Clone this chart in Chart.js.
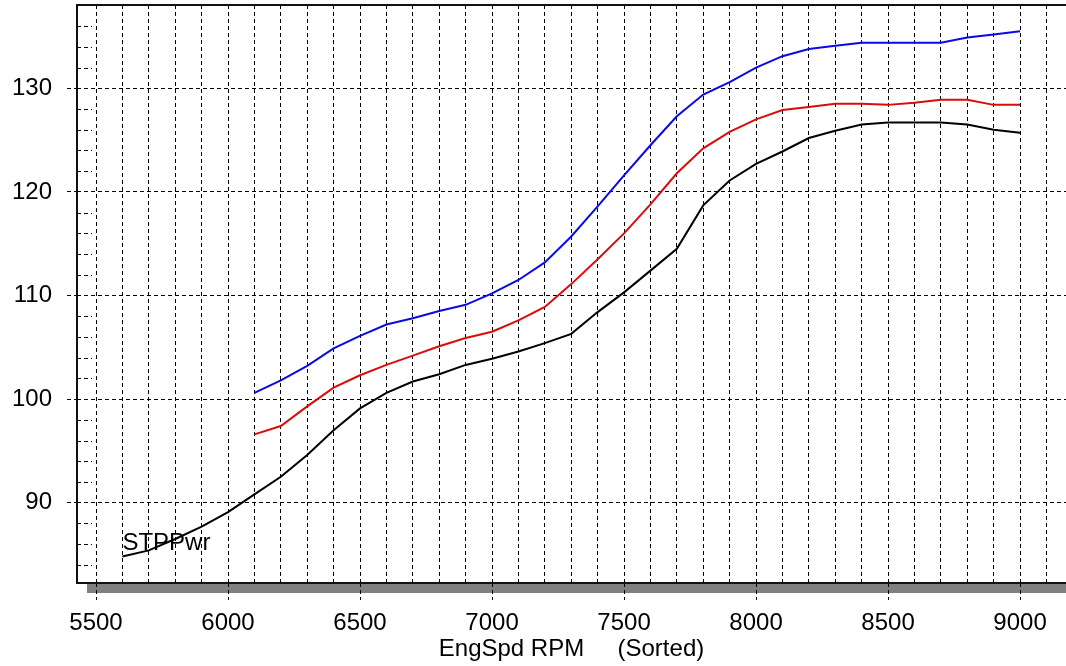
<!DOCTYPE html>
<html>
<head>
<meta charset="utf-8">
<script src="https://cdn.jsdelivr.net/npm/chart.js@4.4.1/dist/chart.umd.min.js"></script>
<style>
  html, body { margin: 0; padding: 0; background: #fff; overflow: hidden; }
  #wrap { width: 1066px; height: 666px; }
</style>
</head>
<body>
<div id="wrap"><canvas id="c" width="1066" height="666"></canvas></div>
<script>
// Engine speed (RPM) samples for each run
const rpmStp = [5600, 5700, 5800, 5900, 6000, 6100, 6200, 6300, 6400, 6500,
                6600, 6700, 6800, 6900, 7000, 7100, 7200, 7300, 7400, 7500,
                7600, 7700, 7800, 7900, 8000, 8100, 8200, 8300, 8400, 8500,
                8600, 8700, 8800, 8900, 9000];
const rpmRuns = [6100, 6200, 6300, 6400, 6500, 6600, 6700, 6800, 6900, 7000,
                 7100, 7200, 7300, 7400, 7500, 7600, 7700, 7800, 7900, 8000,
                 8100, 8200, 8300, 8400, 8500, 8600, 8700, 8800, 8900, 9000];

// STP corrected power (black trace)
const stpPwr = [84.8, 85.4, 86.5, 87.7, 89.1, 90.8, 92.5, 94.6, 97.0, 99.1,
                100.6, 101.7, 102.4, 103.3, 103.9, 104.6, 105.4, 106.3, 108.4, 110.3,
                112.4, 114.5, 118.7, 121.1, 122.7, 123.9, 125.2, 125.9, 126.5, 126.7,
                126.7, 126.7, 126.5, 126.0, 125.7];
// Red trace
const runRed = [96.6, 97.4, 99.3, 101.1, 102.3, 103.3, 104.2, 105.1, 105.9, 106.5,
                107.6, 108.9, 111.1, 113.5, 116.0, 118.8, 121.8, 124.2, 125.8, 127.0,
                127.9, 128.2, 128.5, 128.5, 128.4, 128.6, 128.9, 128.9, 128.4, 128.4];
// Blue trace
const runBlue = [100.6, 101.8, 103.2, 104.9, 106.1, 107.2, 107.8, 108.5, 109.1, 110.2,
                 111.5, 113.2, 115.7, 118.6, 121.6, 124.5, 127.3, 129.4, 130.6, 132.0,
                 133.1, 133.8, 134.1, 134.4, 134.4, 134.4, 134.4, 134.9, 135.2, 135.5];

// Axis settings
const xMin = 5428, xMax = 9174, xStep = 100, xLabelEvery = 500;
const yMin = 82.25, yMax = 138.04, yStep = 10, yMinorStep = 2;
const xTitle = 'EngSpd RPM     (Sorted)';
const traceLabel = 'STPPwr';

const FONT = "'Liberation Sans', Arial, sans-serif";
const FONT_SIZE = 24;
const DASH = [4, 3];

const toPoints = (xs, ys) => xs.map((x, i) => ({ x: x, y: ys[i] }));

const framePlugin = {
  id: 'frame',
  beforeDraw(chart) {
    const { ctx, chartArea: a } = chart;
    ctx.save();
    ctx.fillStyle = '#ffffff';
    ctx.fillRect(0, 0, chart.width, chart.height);
    // drop shadow under the plot
    ctx.fillStyle = '#808080';
    ctx.fillRect(a.left + 10, a.bottom, chart.width - a.left - 10, 10);
    ctx.restore();
  },
  afterDatasetsDraw(chart) {
    const { ctx, chartArea: a, scales } = chart;
    const ys = scales.y, xs = scales.x;
    ctx.save();
    // minor y ticks inside the plot
    ctx.strokeStyle = '#000';
    ctx.lineWidth = 1;
    ctx.setLineDash(DASH);
    const first = Math.ceil(yMin / yMinorStep) * yMinorStep;
    for (let v = first; v <= yMax; v += yMinorStep) {
      if (v % yStep === 0) continue;
      const py = Math.round(ys.getPixelForValue(v)) + 0.5;
      ctx.beginPath();
      ctx.moveTo(a.left, py);
      ctx.lineTo(a.left + 15, py);
      ctx.stroke();
    }
    ctx.setLineDash([]);
    // plot frame
    ctx.strokeStyle = '#111';
    ctx.lineWidth = 2;
    ctx.beginPath();
    ctx.moveTo(chart.width, a.top);
    ctx.lineTo(a.left, a.top);
    ctx.lineTo(a.left, a.bottom);
    ctx.lineTo(chart.width, a.bottom);
    ctx.stroke();
    // trace label
    ctx.fillStyle = '#000';
    ctx.font = FONT_SIZE + 'px ' + FONT;
    ctx.textAlign = 'left';
    ctx.textBaseline = 'alphabetic';
    ctx.fillText(traceLabel, xs.getPixelForValue(rpmStp[0]), ys.getPixelForValue(85.4));
    ctx.restore();
  }
};

new Chart(document.getElementById('c'), {
  type: 'line',
  data: {
    datasets: [
      { label: 'STPPwr', data: toPoints(rpmStp, stpPwr), borderColor: '#000000' },
      { label: 'Red', data: toPoints(rpmRuns, runRed), borderColor: '#dd0a0a' },
      { label: 'Blue', data: toPoints(rpmRuns, runBlue), borderColor: '#0a0ae6' }
    ]
  },
  options: {
    responsive: false,
    animation: false,
    devicePixelRatio: 1,
    elements: {
      line: { borderWidth: 2, tension: 0, fill: false },
      point: { radius: 0, hoverRadius: 0 }
    },
    layout: { padding: { top: 5, left: 0, right: 0, bottom: 0 } },
    plugins: { legend: { display: false }, tooltip: { enabled: false } },
    scales: {
      x: {
        type: 'linear',
        min: xMin,
        max: xMax,
        afterFit: s => {
          s.height = 83;
          s.paddingLeft = 0; s.paddingRight = 0;
          s.paddingTop = 0; s.paddingBottom = 0;
        },
        ticks: {
          stepSize: xStep,
          includeBounds: false,
          autoSkip: false,
          maxRotation: 0,
          minRotation: 0,
          padding: 9,
          color: '#000',
          font: { family: FONT, size: FONT_SIZE },
          callback: v => (v % xLabelEvery === 0 ? String(v) : '')
        },
        grid: {
          color: '#000',
          lineWidth: 1,
          tickLength: 17,
          tickWidth: 1,
          tickBorderDash: DASH,
          tickColor: c => (c.tick && c.tick.value % xLabelEvery === 0 ? '#000' : 'rgba(0,0,0,0)')
        },
        border: { display: false, dash: DASH },
        title: {
          display: true,
          text: xTitle,
          color: '#000',
          font: { family: FONT, size: FONT_SIZE },
          padding: { top: 0, bottom: 2 }
        }
      },
      y: {
        type: 'linear',
        min: yMin,
        max: yMax,
        afterFit: s => {
          s.width = 77;
          s.paddingTop = 0; s.paddingBottom = 0;
          s.paddingLeft = 0; s.paddingRight = 0;
        },
        ticks: {
          stepSize: yStep,
          includeBounds: false,
          autoSkip: false,
          padding: 15,
          color: '#000',
          font: { family: FONT, size: FONT_SIZE }
        },
        grid: {
          color: '#000',
          lineWidth: 1,
          tickLength: 10,
          tickWidth: 1,
          tickColor: '#000',
          tickBorderDash: DASH
        },
        border: { display: false, dash: DASH }
      }
    }
  },
  plugins: [framePlugin]
});
</script>
</body>
</html>
